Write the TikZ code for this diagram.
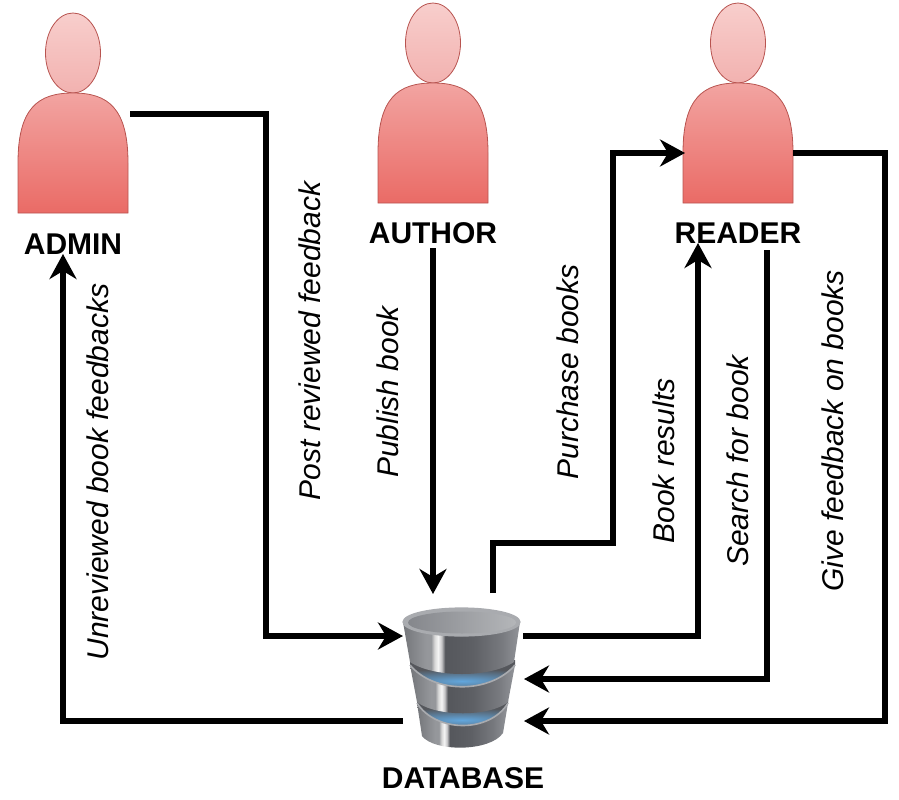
\documentclass[tikz,border=0pt]{standalone}
\usepackage{fontspec}
\setmainfont{Liberation Sans}
\usetikzlibrary{arrows.meta,calc}
\definecolor{headtop}{HTML}{F8CECC}
\definecolor{headbot}{HTML}{F2B2B0}
\definecolor{bodytop}{HTML}{F2A4A1}
\definecolor{bodybot}{HTML}{EA6B66}
\definecolor{personline}{HTML}{B85450}
\definecolor{glowblue}{HTML}{62A6DC}
\definecolor{gapdark}{HTML}{55575C}
\definecolor{rimlight}{HTML}{A9ABAF}
\definecolor{innerl}{HTML}{85878C}
\definecolor{innerr}{HTML}{B4B6B9}
\definecolor{sa}{HTML}{74767A}
\definecolor{sb}{HTML}{95979B}
\definecolor{sc}{HTML}{D8D8D8}
\definecolor{sd}{HTML}{F5F5F5}
\definecolor{se}{HTML}{C4C4C6}
\definecolor{sf}{HTML}{55575C}
\definecolor{sg}{HTML}{5E6065}
\definecolor{sh}{HTML}{77797E}
\definecolor{si}{HTML}{929499}
\pgfdeclarehorizontalshading{dbside}{100bp}{
 color(0bp)=(sa); color(25bp)=(sa); color(35bp)=(sb); color(37bp)=(sb); color(38.5bp)=(sc); color(40bp)=(sd);
 color(41.5bp)=(se); color(43bp)=(sf); color(55bp)=(sg); color(67bp)=(sh); color(75bp)=(si); color(100bp)=(si)}
\tikzset{
 x=1pt,y=-1pt,
 flow/.style={line width=5.5pt,-{Stealth[length=25pt,width=27pt,inset=8pt]},shorten >=-1pt},
 lbl/.style={font=\itshape\fontsize{30}{32}\selectfont,rotate=90,inner sep=0pt},
 ttl/.style={font=\bfseries\fontsize{30}{32}\selectfont,inner sep=0pt},
 personpart/.style={draw=personline,line width=.8pt},
 anchorbox/.style={minimum width=110pt,minimum height=120pt,inner sep=0pt},
 personshape/.pic={
  \path[personpart,top color=headtop,bottom color=headbot] (0,-60-40) ellipse [x radius=27.5,y radius=40];
  \path[personpart,top color=bodytop,bottom color=bodybot]
    (-55,60) -- (-55,10) .. controls (-55,-45) and (-35,-60) .. (0,-60)
    .. controls (35,-60) and (55,-45) .. (55,10) -- (55,60) -- cycle;
 },
 tier/.style={shading=dbside,shading angle=0},
 rimline/.style={draw=rimlight,line width=1.6pt},
}
\begin{document}
\begin{tikzpicture}
\useasboundingbox (0,0) rectangle (899,800);
% people
\node[anchorbox] (admin) at (73,153) {};
\node[anchorbox] (author) at (433,143) {};
\node[anchorbox] (reader) at (738,143) {};
\pic at (admin.center) {personshape};
\pic at (author.center) {personshape};
\pic at (reader.center) {personshape};
% titles
\node[ttl] (admintxt) at (73,244) {ADMIN};
\node[ttl] (authortxt) at (433,233) {AUTHOR};
\node[ttl] (readertxt) at (738,233) {READER};
\node[ttl] (dbtxt) at (463,778) {DATABASE};
% database
\node[minimum width=119pt,minimum height=139pt,inner sep=0pt] (db) at (463,678) {};
% gap behind lowest rim, with glow
\begin{scope}
 \clip (417,700) -- (508,700) -- (508,704) .. controls (490,733) and (436,733) .. (417,704) -- cycle;
 \fill[gapdark] (410,695) rectangle (515,735);
 \shade[inner color=glowblue,outer color=gapdark] (462,720) ellipse [x radius=100,y radius=12];
\end{scope}
% lowest tier
\path[tier] (417,703) .. controls (436,733) and (490,733) .. (508,703) -- (503,733) .. controls (490,752) and (434,752) .. (422,736) -- cycle;
\draw[rimline] (417,703) .. controls (436,733) and (490,733) .. (508,703);
% gap behind middle rim, with glow
\begin{scope}
 \clip (410,660) -- (515,660) -- (515,666) .. controls (490,694) and (434,694) .. (410,666) -- cycle;
 \fill[gapdark] (405,655) rectangle (520,700);
 \shade[inner color=glowblue,outer color=gapdark] (462,681) ellipse [x radius=100,y radius=12];
\end{scope}
% middle tier
\path[tier] (410,665) .. controls (434,694) and (490,694) .. (515,665) -- (508,702) .. controls (490,717) and (436,717) .. (417,702) -- cycle;
\draw[rimline] (410,665) .. controls (434,694) and (490,694) .. (515,665);
% top tier
\path[tier] (403,622) -- (520,622) -- (514,662) .. controls (490,678) and (434,678) .. (410,662) -- cycle;
\path[draw=rimlight,line width=1.2pt,fill=rimlight] (461.5,622) ellipse [x radius=58.5,y radius=14];
\path[left color=innerl,right color=innerr] (462,622.5) ellipse [x radius=54,y radius=11];
% connector end points
\coordinate (adminout) at (130,114);
\coordinate (dbwest) at (402,636);
\coordinate (dbwestb) at (403,721);
\coordinate (adminin) at (63,255);
\coordinate (authorout) at (433,248);
\coordinate (dbnorth) at (433,593);
\coordinate (dbnorthb) at (493,593);
\coordinate (readerwest) at (684,153);
\coordinate (dbeast) at (523,636);
\coordinate (readerin) at (698,244);
\coordinate (readerout) at (767,250);
\coordinate (dbeastb) at (525,679);
\coordinate (readereast) at (793,153);
\coordinate (dbeastc) at (525,721);
% connectors
\draw[flow] (adminout) -| (266,636) -- (dbwest);
\draw[flow] (dbwestb) -| (adminin);
\draw[flow] (authorout) -- (dbnorth);
\draw[flow] (dbnorthb) |- (613,543) |- (readerwest);
\draw[flow] (dbeast) -| (readerin);
\draw[flow] (readerout) |- (dbeastb);
\draw[flow] (readereast) -| (885,721) -- (dbeastc);
% labels
\node[lbl] (l1) at (98,472) {Unreviewed book feedbacks};
\node[lbl] (l2) at (310,341) {Post reviewed feedback};
\node[lbl] (l3) at (388,392) {Publish book};
\node[lbl] (l4) at (568,372) {Purchase books};
\node[lbl] (l5) at (664,461) {Book results};
\node[lbl] (l6) at (738,461) {Search for book};
\node[lbl] (l7) at (833,431) {Give feedback on books};
\end{tikzpicture}
\end{document}
